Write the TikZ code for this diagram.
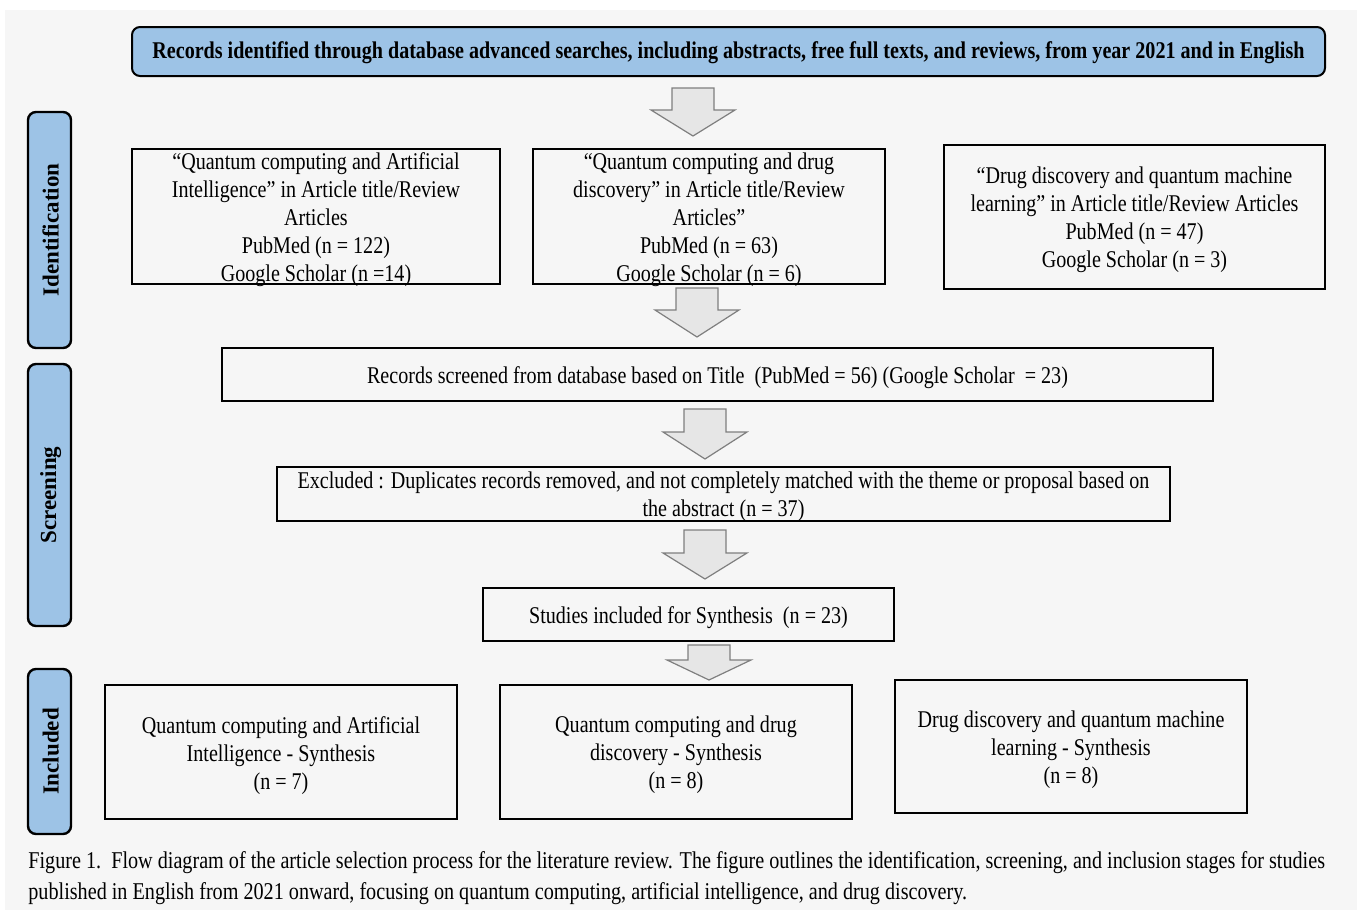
\documentclass[tikz,border=0pt]{standalone}
\usepackage{fontspec}
\setmainfont{Liberation Serif}[FakeStretch=0.837]
\newfontfamily\sidefont{Liberation Serif}
\usetikzlibrary{positioning}
\definecolor{bg}{HTML}{F6F6F6}
\definecolor{lblue}{HTML}{9DC3E6}
\definecolor{arrfill}{HTML}{E6E6E6}
\definecolor{arrline}{HTML}{7F7F7F}
\newcommand{\blockarr}[5]{% x, ytop, yhead, ytip, name
  \draw[blockarrow] (#1-21,#2) -- (#1+21,#2) -- (#1+21,#3) -- (#1+42,#3) -- (#1,#4) coordinate (#5) -- (#1-42,#3) -- (#1-21,#3) -- cycle;}
\newcommand{\flowbox}[6][]{% [extra], name, position, width(pt), height(pt), text
  \node[box,minimum width=#4,minimum height=#5,#1] (#2) at (#3) {};
  \node[boxtext] (#2-t) at ([yshift=-1.6pt]#2.center) {#6};}
\begin{document}
\begin{tikzpicture}[x=0.5pt,y=-0.5pt,
  box/.style={draw=black,line width=1pt,fill=bg,inner sep=0pt},
  boxtext/.style={align=center,inner sep=0pt,font=\fontsize{12}{14}\selectfont},
  side/.style={draw=black,line width=1.2pt,fill=lblue,rounded corners=4pt,inner sep=0pt},
  sidelabel/.style={rotate=90,font=\sidefont\fontsize{11.5}{13}\selectfont\bfseries},
  blockarrow/.style={draw=arrline,fill=arrfill,line width=0.6pt,line join=miter}]
\useasboundingbox (0,0) rectangle (1357,910);
\fill[white] (0,0) rectangle (1357,910);
\fill[bg] (5,10) rectangle (1357,910);
% top box
\node[box,fill=lblue,rounded corners=4pt,minimum width=596.5pt,minimum height=24.5pt] (top) at (728.5,51.5) {};
\node[boxtext,font=\fontsize{12}{14}\selectfont\bfseries] (top-t) at ([yshift=-0.8pt]top.center)
  {Records identified through database advanced searches, including abstracts, free full texts, and reviews, from year 2021 and in English};
% side bars
\node[side,minimum width=21.5pt,minimum height=118pt] (sid) at (49.5,230) {};
\node[sidelabel] (sid-t) at ([xshift=0.6pt]sid.center) {Identification};
\node[side,minimum width=21.5pt,minimum height=131pt] (sscr) at (49.5,495) {};
\node[sidelabel] (sscr-t) at ([xshift=0.6pt]sscr.center) {Screening};
\node[side,minimum width=21.5pt,minimum height=82.5pt] (sinc) at (49.5,751.5) {};
\node[sidelabel] (sinc-t) at ([xshift=0.6pt]sinc.center) {Included};
% identification boxes
\flowbox{a1}{316,216.5}{184pt}{67.5pt}
  {“Quantum computing and Artificial\\Intelligence” in Article title/Review\\Articles\\PubMed (n = 122)\\Google Scholar (n =14)}
\flowbox{a2}{709,216.5}{176pt}{67.5pt}
  {“Quantum computing and drug\\discovery” in Article title/Review\\Articles”\\PubMed (n = 63)\\Google Scholar (n = 6)}
\flowbox{a3}{1134.5,217}{190.5pt}{72pt}
  {“Drug discovery and quantum machine\\learning” in Article title/Review Articles\\PubMed (n = 47)\\Google Scholar (n = 3)}
% screening
\flowbox{scr}{717.5,374.5}{495.5pt}{26.5pt}
  {Records screened from database based on Title\ \ (PubMed = 56) (Google Scholar\ \ = 23)}
\flowbox{exc}{723.5,494}{446.5pt}{27pt}
  {Excluded : Duplicates records removed, and not completely matched with the theme or proposal based on\\the abstract (n = 37)}
\flowbox{stu}{688.5,614.5}{205.5pt}{26.5pt}
  {Studies included for Synthesis\ \ (n = 23)}
% included
\flowbox{b1}{281,752}{176pt}{67pt}
  {Quantum computing and Artificial\\Intelligence - Synthesis\\(n = 7)}
\flowbox{b2}{676,752}{176pt}{67pt}
  {Quantum computing and drug\\discovery - Synthesis\\(n = 8)}
\flowbox{b3}{1071,746.5}{176pt}{66.5pt}
  {Drug discovery and quantum machine\\learning - Synthesis\\(n = 8)}
% block arrows
\blockarr{693}{88}{110}{136}{t1}
\blockarr{697}{288}{310}{337}{t2}
\blockarr{705}{409}{432}{459}{t3}
\blockarr{705}{530}{553}{579}{t4}
\blockarr{709}{645}{660}{680}{t5}
% caption
\node[anchor=west,inner sep=0pt,font=\fontsize{12.05}{14}\selectfont] (cap1) at (28,863)
  {Figure 1.\ \ Flow diagram of the article selection process for the literature review. The figure outlines the identification, screening, and inclusion stages for studies};
\node[anchor=west,inner sep=0pt,font=\fontsize{12.05}{14}\selectfont] (cap2) at (28,894)
  {published in English from 2021 onward, focusing on quantum computing, artificial intelligence, and drug discovery.};
\end{tikzpicture}
\end{document}
